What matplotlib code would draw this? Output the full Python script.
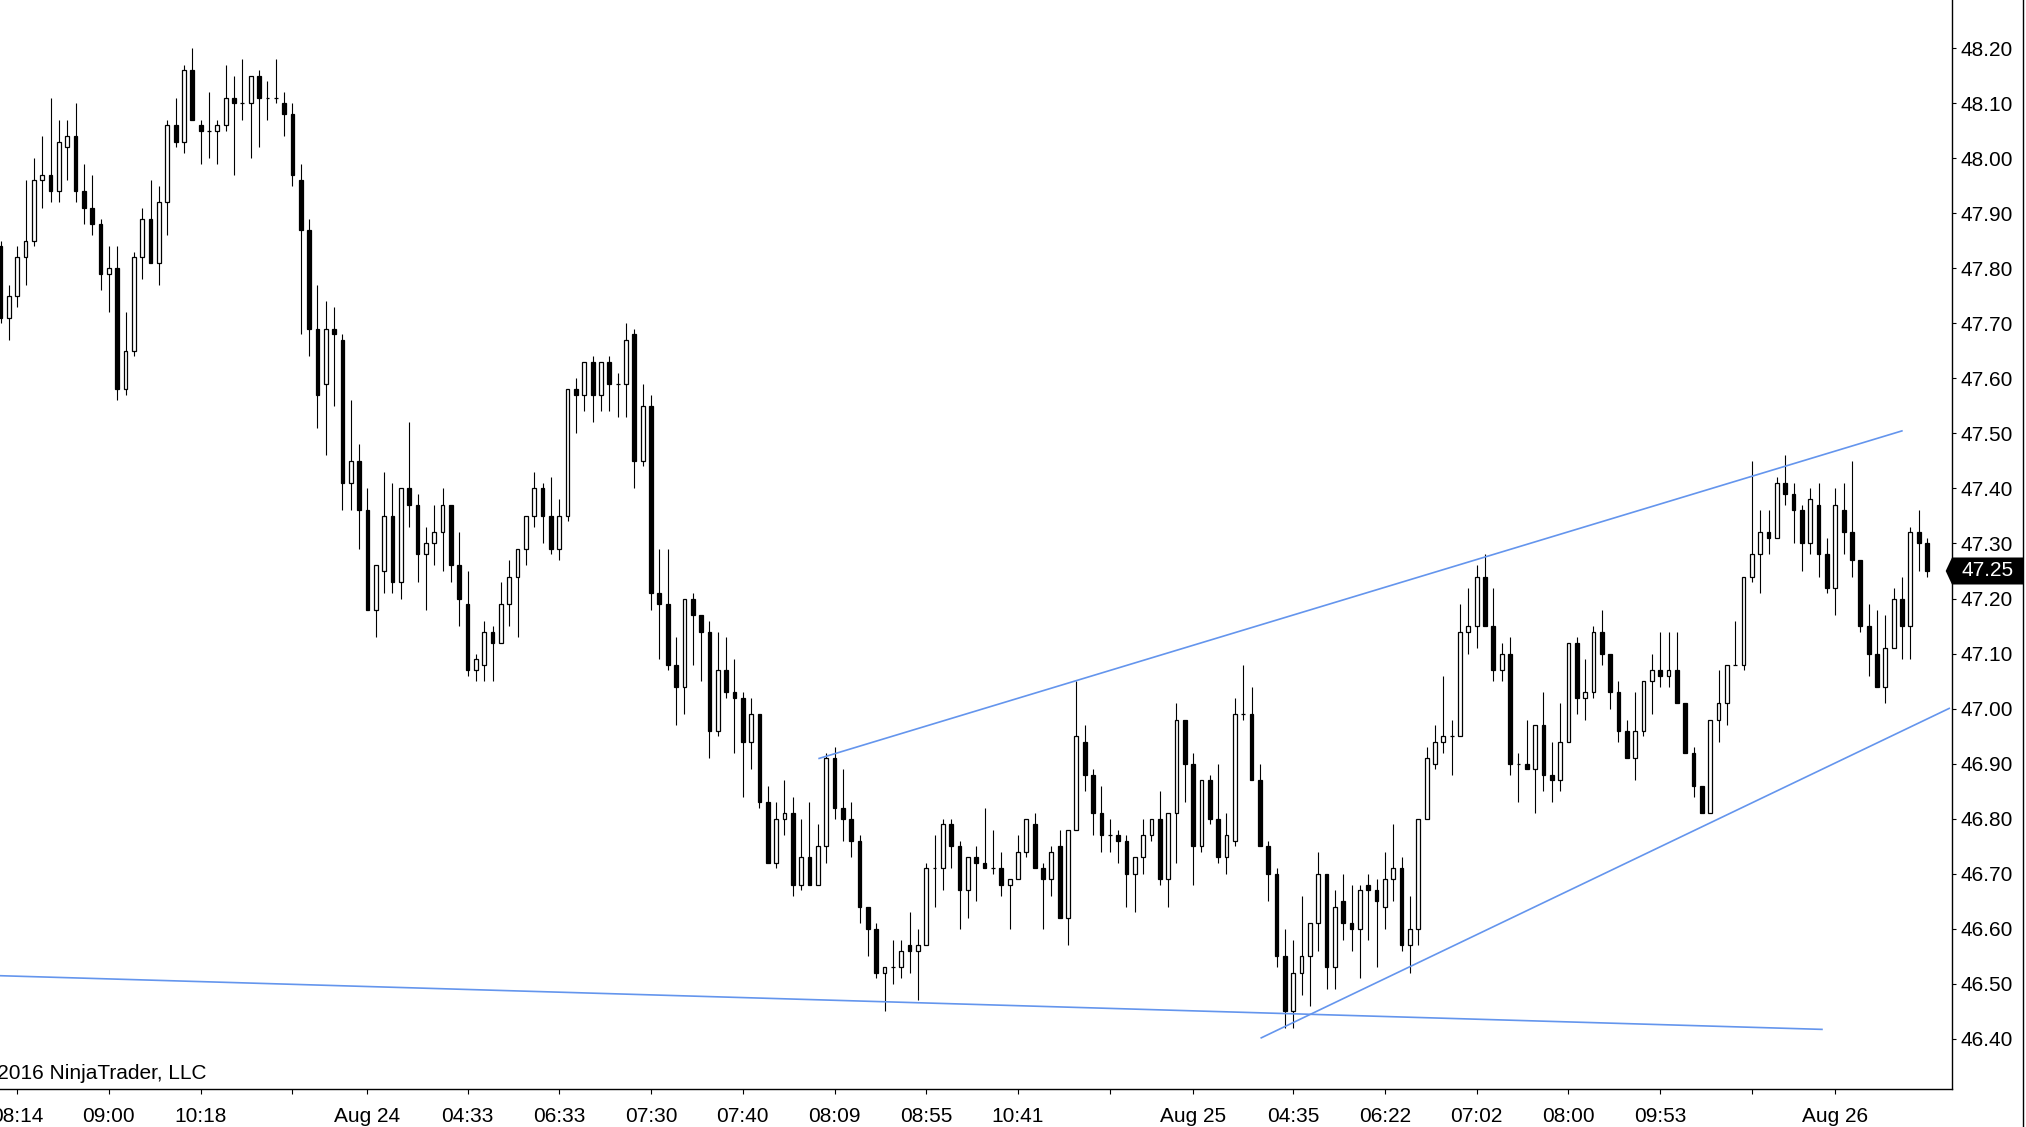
import matplotlib
matplotlib.use("Agg")
import matplotlib.pyplot as plt
import numpy as np
from matplotlib.patches import Polygon
from matplotlib.lines import Line2D
from matplotlib.transforms import blended_transform_factory

# ---------------- data ----------------
opens = [47.84, 47.71, 47.75, 47.82, 47.85, 47.96, 47.97, 47.94, 48.02, 48.04,
         47.94, 47.91, 47.88, 47.79, 47.80, 47.58, 47.65, 47.82, 47.89, 47.81,
         47.92, 48.06, 48.03, 48.16, 48.06, 48.05, 48.05, 48.06, 48.11, 48.10,
         48.10, 48.15, 48.11, 48.11, 48.10, 48.08, 47.96, 47.87, 47.69, 47.59,
         47.69, 47.67, 47.41, 47.45, 47.36, 47.18, 47.25, 47.35, 47.23, 47.40,
         47.37, 47.28, 47.30, 47.32, 47.37, 47.26, 47.19, 47.07, 47.08, 47.14,
         47.12, 47.19, 47.24, 47.29, 47.35, 47.40, 47.35, 47.29, 47.35, 47.58,
         47.57, 47.63, 47.57, 47.63, 47.59, 47.59, 47.68, 47.45, 47.55, 47.21,
         47.19, 47.08, 47.04, 47.20, 47.17, 47.14, 46.96, 47.07, 47.03, 47.02,
         46.94, 46.99, 46.83, 46.72, 46.80, 46.81, 46.68, 46.73, 46.68, 46.75,
         46.91, 46.82, 46.80, 46.76, 46.64, 46.60, 46.52, 46.53, 46.53, 46.57,
         46.56, 46.57, 46.71, 46.71, 46.79, 46.75, 46.67, 46.73, 46.72, 46.71,
         46.71, 46.68, 46.69, 46.74, 46.79, 46.71, 46.69, 46.75, 46.62, 46.78,
         46.94, 46.88, 46.81, 46.77, 46.77, 46.76, 46.70, 46.73, 46.77, 46.80,
         46.69, 46.81, 46.98, 46.90, 46.75, 46.87, 46.80, 46.73, 46.76, 46.99,
         46.99, 46.87, 46.75, 46.70, 46.55, 46.45, 46.52, 46.55, 46.61, 46.70,
         46.53, 46.65, 46.61, 46.60, 46.68, 46.67, 46.64, 46.69, 46.71, 46.57,
         46.60, 46.80, 46.90, 46.94, 46.95, 46.95, 47.14, 47.15, 47.24, 47.15,
         47.07, 47.10, 46.90, 46.90, 46.89, 46.97, 46.88, 46.87, 46.94, 47.12,
         47.02, 47.03, 47.14, 47.10, 47.03, 46.96, 46.91, 46.96, 47.05, 47.07,
         47.06, 47.07, 47.01, 46.92, 46.86, 46.81, 46.98, 47.01, 47.08, 47.08,
         47.24, 47.28, 47.32, 47.31, 47.41, 47.39, 47.36, 47.30, 47.37, 47.28,
         47.22, 47.36, 47.32, 47.27, 47.15, 47.10, 47.04, 47.11, 47.20, 47.15,
         47.32, 47.30]
highs = [47.85, 47.77, 47.84, 47.96, 48.00, 48.04, 48.11, 48.07, 48.07, 48.10,
         47.99, 47.97, 47.89, 47.84, 47.84, 47.72, 47.83, 47.91, 47.96, 47.95,
         48.07, 48.11, 48.17, 48.20, 48.07, 48.12, 48.07, 48.17, 48.15, 48.18,
         48.15, 48.16, 48.14, 48.18, 48.12, 48.10, 47.99, 47.89, 47.77, 47.74,
         47.73, 47.68, 47.56, 47.48, 47.40, 47.26, 47.43, 47.41, 47.40, 47.52,
         47.39, 47.33, 47.37, 47.40, 47.37, 47.32, 47.25, 47.10, 47.16, 47.15,
         47.23, 47.27, 47.29, 47.35, 47.43, 47.41, 47.42, 47.38, 47.58, 47.60,
         47.63, 47.64, 47.63, 47.64, 47.61, 47.70, 47.69, 47.59, 47.57, 47.29,
         47.29, 47.13, 47.20, 47.21, 47.17, 47.16, 47.14, 47.13, 47.09, 47.03,
         47.02, 46.99, 46.86, 46.83, 46.87, 46.84, 46.80, 46.83, 46.79, 46.92,
         46.93, 46.89, 46.83, 46.77, 46.64, 46.61, 46.53, 46.58, 46.58, 46.63,
         46.60, 46.72, 46.77, 46.80, 46.80, 46.76, 46.73, 46.75, 46.82, 46.78,
         46.74, 46.69, 46.77, 46.80, 46.81, 46.72, 46.75, 46.78, 46.78, 47.05,
         46.97, 46.89, 46.86, 46.80, 46.78, 46.77, 46.73, 46.80, 46.80, 46.85,
         46.81, 47.01, 46.98, 46.92, 46.87, 46.88, 46.90, 46.81, 47.02, 47.08,
         47.04, 46.90, 46.76, 46.71, 46.60, 46.58, 46.66, 46.61, 46.74, 46.70,
         46.67, 46.70, 46.68, 46.68, 46.70, 46.69, 46.74, 46.79, 46.73, 46.66,
         46.80, 46.93, 46.97, 47.06, 46.98, 47.19, 47.22, 47.26, 47.28, 47.22,
         47.12, 47.13, 46.92, 46.98, 46.97, 47.03, 46.94, 47.01, 47.12, 47.13,
         47.09, 47.15, 47.18, 47.10, 47.05, 46.98, 47.03, 47.05, 47.10, 47.14,
         47.14, 47.14, 47.01, 46.93, 46.86, 46.98, 47.07, 47.08, 47.16, 47.24,
         47.45, 47.36, 47.36, 47.42, 47.46, 47.41, 47.37, 47.40, 47.41, 47.31,
         47.40, 47.41, 47.45, 47.27, 47.19, 47.18, 47.17, 47.22, 47.24, 47.33,
         47.36, 47.31]
lows = [47.70, 47.67, 47.73, 47.77, 47.84, 47.91, 47.92, 47.92, 47.96, 47.92,
        47.88, 47.86, 47.76, 47.72, 47.56, 47.57, 47.64, 47.78, 47.81, 47.77,
        47.86, 48.02, 48.01, 48.07, 47.99, 48.00, 47.99, 48.05, 47.97, 48.07,
        48.00, 48.02, 48.07, 48.10, 48.04, 47.95, 47.68, 47.64, 47.51, 47.46,
        47.55, 47.36, 47.36, 47.29, 47.18, 47.13, 47.21, 47.21, 47.20, 47.33,
        47.23, 47.18, 47.26, 47.25, 47.23, 47.15, 47.06, 47.05, 47.05, 47.05,
        47.12, 47.15, 47.13, 47.26, 47.33, 47.30, 47.28, 47.27, 47.34, 47.50,
        47.54, 47.52, 47.54, 47.54, 47.53, 47.53, 47.40, 47.44, 47.18, 47.09,
        47.07, 46.97, 46.99, 47.08, 47.05, 46.91, 46.95, 47.02, 46.92, 46.84,
        46.89, 46.82, 46.72, 46.71, 46.77, 46.66, 46.67, 46.68, 46.68, 46.72,
        46.80, 46.76, 46.73, 46.61, 46.55, 46.51, 46.45, 46.50, 46.51, 46.52,
        46.47, 46.57, 46.64, 46.67, 46.71, 46.60, 46.62, 46.65, 46.71, 46.70,
        46.66, 46.60, 46.69, 46.73, 46.71, 46.60, 46.66, 46.62, 46.57, 46.78,
        46.85, 46.77, 46.74, 46.74, 46.72, 46.64, 46.63, 46.70, 46.76, 46.68,
        46.64, 46.72, 46.83, 46.68, 46.74, 46.79, 46.72, 46.70, 46.75, 46.98,
        46.87, 46.75, 46.65, 46.53, 46.42, 46.42, 46.48, 46.46, 46.56, 46.49,
        46.49, 46.58, 46.56, 46.51, 46.58, 46.53, 46.60, 46.65, 46.56, 46.52,
        46.57, 46.80, 46.89, 46.92, 46.88, 46.95, 47.10, 47.11, 47.15, 47.05,
        47.05, 46.88, 46.83, 46.89, 46.81, 46.85, 46.83, 46.85, 46.94, 46.99,
        46.98, 47.02, 47.08, 47.00, 46.94, 46.91, 46.87, 46.95, 46.99, 47.04,
        47.04, 47.01, 46.92, 46.84, 46.81, 46.81, 46.94, 46.97, 47.08, 47.07,
        47.23, 47.21, 47.28, 47.31, 47.37, 47.30, 47.25, 47.28, 47.24, 47.21,
        47.17, 47.28, 47.24, 47.14, 47.06, 47.04, 47.01, 47.11, 47.09, 47.09,
        47.25, 47.24]
closes = [47.71, 47.75, 47.82, 47.85, 47.96, 47.97, 47.94, 48.03, 48.04, 47.94,
          47.91, 47.88, 47.79, 47.80, 47.58, 47.65, 47.82, 47.89, 47.81, 47.92,
          48.06, 48.03, 48.16, 48.07, 48.05, 48.05, 48.06, 48.11, 48.10, 48.10,
          48.15, 48.11, 48.11, 48.11, 48.08, 47.97, 47.87, 47.69, 47.57, 47.69,
          47.68, 47.41, 47.45, 47.36, 47.18, 47.26, 47.35, 47.23, 47.40, 47.37,
          47.28, 47.30, 47.32, 47.37, 47.26, 47.20, 47.07, 47.09, 47.14, 47.12,
          47.19, 47.24, 47.29, 47.35, 47.40, 47.35, 47.29, 47.35, 47.58, 47.57,
          47.63, 47.57, 47.63, 47.59, 47.59, 47.67, 47.45, 47.55, 47.21, 47.19,
          47.08, 47.04, 47.20, 47.17, 47.14, 46.96, 47.07, 47.03, 47.02, 46.94,
          46.99, 46.83, 46.72, 46.80, 46.81, 46.68, 46.73, 46.68, 46.75, 46.91,
          46.82, 46.80, 46.76, 46.64, 46.60, 46.52, 46.53, 46.53, 46.56, 46.56,
          46.57, 46.71, 46.71, 46.79, 46.75, 46.67, 46.73, 46.72, 46.71, 46.71,
          46.68, 46.69, 46.74, 46.80, 46.71, 46.69, 46.74, 46.62, 46.78, 46.95,
          46.88, 46.81, 46.77, 46.77, 46.76, 46.70, 46.73, 46.77, 46.80, 46.69,
          46.81, 46.98, 46.90, 46.75, 46.87, 46.80, 46.73, 46.77, 46.99, 46.99,
          46.87, 46.75, 46.70, 46.55, 46.45, 46.52, 46.55, 46.61, 46.70, 46.53,
          46.64, 46.61, 46.60, 46.67, 46.67, 46.65, 46.69, 46.71, 46.57, 46.60,
          46.80, 46.91, 46.94, 46.95, 46.95, 47.14, 47.15, 47.24, 47.15, 47.07,
          47.10, 46.90, 46.90, 46.89, 46.97, 46.88, 46.87, 46.94, 47.12, 47.02,
          47.03, 47.14, 47.10, 47.03, 46.96, 46.91, 46.96, 47.05, 47.07, 47.06,
          47.07, 47.01, 46.92, 46.86, 46.81, 46.98, 47.01, 47.08, 47.08, 47.24,
          47.28, 47.32, 47.31, 47.41, 47.39, 47.36, 47.30, 47.38, 47.28, 47.22,
          47.37, 47.32, 47.27, 47.15, 47.10, 47.04, 47.11, 47.20, 47.15, 47.32,
          47.30, 47.25]

x_tick_pos = [2, 13, 24, 35, 44, 56, 67, 78, 89, 100, 111, 122, 133, 143,
              155, 166, 177, 188, 199, 210, 220]
x_tick_labels = ["08:14", "09:00", "10:18", "", "Aug 24", "04:33", "06:33",
                 "07:30", "07:40", "08:09", "08:55", "10:41", "", "Aug 25",
                 "04:35", "06:22", "07:02", "08:00", "09:53", "", "Aug 26"]
y_ticks = [46.40, 46.50, 46.60, 46.70, 46.80, 46.90, 47.00, 47.10, 47.20,
           47.30, 47.40, 47.50, 47.60, 47.70, 47.80, 47.90, 48.00, 48.10, 48.20]

# drawn trend lines: (x0, y0, x1, y1) in bar index / price
line_support_x = [-1.0, 218.5]
line_support_y = [46.515, 46.417]
line_upper_x = [98.06, 228.08]
line_upper_y = [46.909, 47.505]
line_lower_x = [151.08, 233.75]
line_lower_y = [46.401, 47.001]

last_price = 47.25
copyright_text = "\u00a9 2016 NinjaTrader, LLC"

# ---------------- figure ----------------
plt.rcParams['font.family'] = ['Liberation Sans', 'DejaVu Sans']

W, H = 2026, 1127
fig = plt.figure(figsize=(W / 100, H / 100), dpi=100)
fig.patch.set_facecolor('white')
ax_bottom_px = 38
ax_right_px = 1952
ax = fig.add_axes([0, ax_bottom_px / H, ax_right_px / W, 1 - ax_bottom_px / H])

o = np.array(opens)
h = np.array(highs)
l = np.array(lows)
c = np.array(closes)
x = np.arange(len(o))

ax.vlines(x, l, h, color='black', linewidth=0.8, zorder=2)
up = c >= o
body_w = 0.45
ax.bar(x[up], c[up] - o[up], bottom=o[up], width=body_w, facecolor='white',
       edgecolor='black', linewidth=0.9, zorder=3)
ax.bar(x[~up], o[~up] - c[~up], bottom=c[~up], width=body_w, facecolor='black',
       edgecolor='black', linewidth=0.9, zorder=3)

tl_color = '#6495ED'
for lx, ly in [(line_support_x, line_support_y),
               (line_upper_x, line_upper_y),
               (line_lower_x, line_lower_y)]:
    ax.plot(lx, ly, color=tl_color, linewidth=1.2, zorder=4,
            solid_capstyle='butt')

ax.set_xlim(-0.06, (ax_right_px - 0.5) / 8.34)
ax.set_ylim(46.3087, 48.2876)

ax.spines['left'].set_visible(False)
ax.spines['top'].set_visible(False)
ax.spines['right'].set_linewidth(1.0)
ax.spines['bottom'].set_linewidth(1.0)

ax.yaxis.tick_right()
ax.set_yticks(y_ticks)
ax.set_yticklabels([f"{v:.2f}" for v in y_ticks])
ax.set_xticks(x_tick_pos)
ax.set_xticklabels(x_tick_labels)
ax.tick_params(axis='x', direction='out', length=3.6, width=0.8, pad=9,
               labelsize=15, colors='black')
ax.tick_params(axis='y', direction='out', length=3.0, width=0.8, pad=3.4,
               labelsize=15, colors='black')

# last price marker on the right axis
trans = blended_transform_factory(ax.transAxes, ax.transData)
half_h = 13.5 * 0.0018172
tip = 1945.7 / ax_right_px
right = 2023.0 / ax_right_px
poly = Polygon([(tip, last_price), (1.0, last_price + half_h),
                (right, last_price + half_h), (right, last_price - half_h),
                (1.0, last_price - half_h)], closed=True, transform=trans,
               facecolor='black', edgecolor='black', linewidth=0,
               clip_on=False, zorder=5)
ax.add_patch(poly)
ax.text(1961 / ax_right_px, last_price, f"{last_price:.2f}", transform=trans,
        ha='left', va='center', color='white', fontsize=15, zorder=6,
        clip_on=False)

# thin frame line at far right
fig.add_artist(Line2D([2023.3 / W, 2023.3 / W], [0, 1], transform=fig.transFigure,
                      color='black', linewidth=1.0))

fig.text(207 / W, 1 - 1078.7 / H, copyright_text, ha='right', va='baseline',
         fontsize=15, color='black')

fig.savefig('out.png', dpi=100, facecolor='white')
